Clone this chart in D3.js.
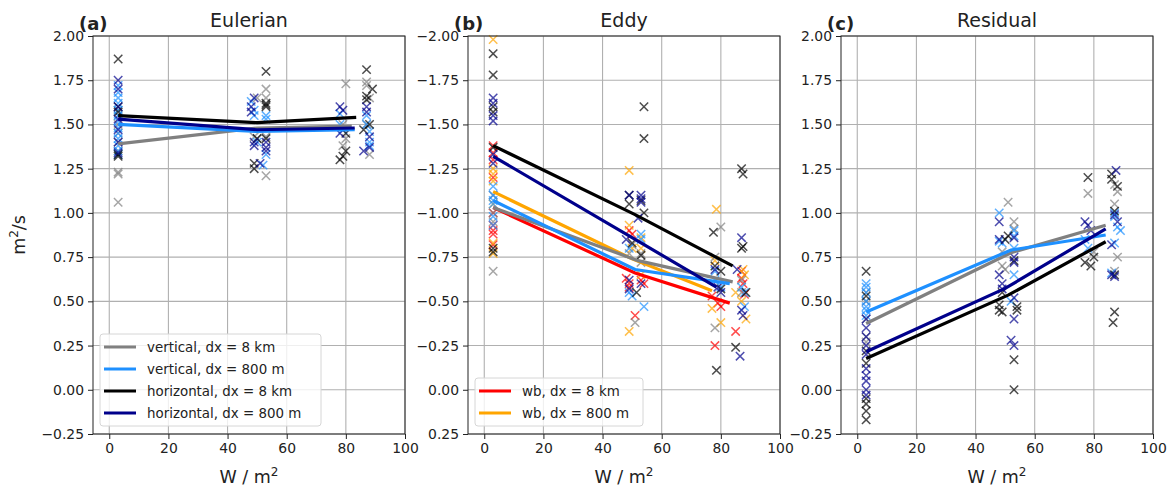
<!DOCTYPE html>
<html>
<head>
<meta charset="utf-8">
<script src="https://cdn.jsdelivr.net/npm/d3@7"></script>
<style>
  body { margin: 0; background: #fff; }
  text { font-family: 'DejaVu Sans', sans-serif; fill: #222; }
</style>
</head>
<body>
<div class="chart"></div>
<script>
// DATA ------------------------------------
const xTicks = [0, 20, 40, 60, 80, 100]
const yTicks = [-0.25, 0, 0.25, 0.5, 0.75, 1.0, 1.25, 1.5, 1.75, 2.0]

// (a) Eulerian
const eulGrey8Pts = [[3,1.58],[3,1.55],[3,1.50],[3,1.45],[3,1.40],[3,1.35],[3,1.23],[3,1.22],[3,1.06],[50,1.65],[49,1.43],[50,1.42],[53,1.70],[53,1.65],[53,1.43],[53,1.21],[80,1.73],[79,1.50],[80,1.42],[79,1.38],[87,1.74],[87,1.72],[88,1.65],[87,1.50],[88,1.33]]
const eulGrey8Line = [[3,1.39],[50,1.48],[82,1.49]]
const eulBlue800Pts = [[3,1.72],[3,1.68],[3,1.65],[3,1.62],[3,1.58],[3,1.55],[3,1.52],[3,1.48],[3,1.45],[3,1.42],[3,1.38],[3,1.35],[3,1.33],[48,1.63],[49,1.58],[49,1.55],[50,1.40],[53,1.55],[53,1.53],[53,1.33],[52,1.27],[78,1.56],[78,1.50],[79,1.47],[87,1.55],[87,1.50],[88,1.46],[88,1.40],[88,1.38]]
const eulBlue800Line = [[3,1.50],[50,1.46],[83,1.47]]
const eulBlack8Pts = [[3,1.87],[3,1.60],[3,1.57],[3,1.33],[3,1.32],[49,1.28],[49,1.25],[50,1.42],[53,1.80],[53,1.62],[53,1.61],[53,1.60],[53,1.42],[79,1.32],[78,1.30],[80,1.35],[80,1.45],[87,1.81],[89,1.70],[87,1.66],[87,1.64],[86,1.47],[88,1.50]]
const eulBlack8Line = [[3,1.55],[50,1.51],[83.5,1.54]]
const eulNavy800Pts = [[3,1.75],[3,1.70],[3,1.60],[3,1.53],[3,1.47],[3,1.40],[3,1.34],[49,1.65],[48,1.60],[48,1.57],[49,1.40],[49,1.38],[51,1.28],[53,1.40],[53,1.37],[53,1.35],[78,1.60],[79,1.58],[78,1.45],[87,1.60],[87,1.57],[86,1.35],[88,1.37],[88,1.43]]
const eulNavy800Line = [[3,1.53],[50,1.47],[83,1.48]]

// (b) Eddy
const eddyRed8Pts = [[3,-1.38],[3,-1.34],[3,-1.30],[3,-1.20],[3,-1.00],[3,-0.93],[3,-0.90],[3,-0.88],[3,-0.82],[49,-0.90],[50,-0.88],[48,-0.63],[49,-0.60],[49,-0.58],[51,-0.42],[53,-0.62],[54,-0.60],[77,-0.53],[79,-0.49],[80,-0.47],[78,-0.25],[87,-0.67],[87,-0.63],[87.5,-0.60],[88,-0.54],[85,-0.33]]
const eddyRed8Line = [[3,-1.03],[51,-0.66],[83,-0.49]]
const eddyOrange800Pts = [[3,-1.98],[3,-1.25],[3,-1.22],[3,-1.18],[3,-1.05],[3,-0.83],[3,-0.77],[49,-1.24],[49,-0.93],[49,-0.33],[50,-0.80],[53,-0.86],[53,-0.80],[53,-0.65],[78.5,-1.02],[78,-0.73],[77,-0.46],[80,-0.38],[87.5,-0.68],[88,-0.65],[87,-0.50],[88.5,-0.40],[85,-0.55]]
const eddyOrange800Line = [[3,-1.12],[50,-0.74],[77,-0.56]]
const eddyGrey8Pts = [[3,-1.00],[3,-1.10],[3,-0.95],[3,-0.67],[49,-0.77],[50,-0.82],[51,-0.38],[53,-0.77],[53,-0.72],[80,-0.92],[78,-0.75],[78,-0.35],[87,-0.55],[87,-0.62]]
const eddyGrey8Line = [[3,-1.03],[52,-0.73],[84,-0.61]]
const eddyBlue800Pts = [[3,-1.15],[3,-1.10],[3,-1.07],[3,-1.05],[3,-0.98],[3,-0.93],[49,-0.80],[49,-0.55],[50,-0.53],[53,-0.88],[53,-0.85],[54,-0.47],[78,-0.67],[78,-0.62],[80,-0.58],[87,-0.58],[88,-0.55],[88,-0.47]]
const eddyBlue800Line = [[3,-1.07],[51,-0.68],[83,-0.60]]
const eddyBlack8Pts = [[3,-1.90],[3,-1.78],[3,-1.60],[3,-1.57],[3,-1.37],[3,-0.80],[3,-0.78],[49,-1.05],[49,-1.10],[50,-0.83],[51.5,-0.55],[54,-1.60],[54,-1.42],[54,-1.00],[53,-1.07],[53,-0.76],[77.5,-0.89],[78,-0.70],[80,-0.67],[80,-0.57],[78.5,-0.11],[87,-1.25],[87.5,-1.22],[87.5,-0.81],[87,-0.80],[88.5,-0.55],[85,-0.24]]
const eddyBlack8Line = [[3,-1.38],[51,-0.99],[84,-0.70]]
const eddyNavy800Pts = [[3,-1.65],[3,-1.62],[3,-1.55],[3,-1.52],[3,-1.33],[3,-1.28],[49,-1.10],[48,-0.85],[49,-0.62],[49,-0.57],[53,-1.10],[53,-1.08],[53,-1.06],[52,-0.97],[53,-0.60],[78,-0.68],[79,-0.58],[80,-0.55],[87,-0.86],[85.5,-0.68],[87,-0.45],[87.5,-0.42],[86.5,-0.19]]
const eddyNavy800Line = [[3,-1.32],[50,-0.86],[78.5,-0.58]]

// (c) Residual
const resGrey8Pts = [[3,0.55],[3,0.50],[3,0.40],[3,0.30],[3,0.27],[51,1.06],[49,0.78],[49,0.70],[50,0.68],[53,0.95],[53,0.91],[78,1.11],[80,0.78],[87,1.16],[88,1.12],[87,1.05],[88,0.75],[87,0.67]]
const resGrey8Line = [[3,0.375],[52,0.775],[84,0.93]]
const resBlue800Pts = [[3,0.60],[3,0.58],[3,0.55],[3,0.50],[3,0.47],[3,0.45],[3,0.42],[48,1.00],[48,0.84],[49,0.83],[53,0.90],[53,0.87],[53,0.80],[53,0.65],[52,0.50],[77,0.85],[78,0.80],[87,1.00],[87,0.98],[88,0.92],[89,0.90],[87,0.83],[86,0.66]]
const resBlue800Line = [[3,0.44],[52,0.79],[84,0.875]]
const resBlack8Pts = [[3,0.67],[3,0.53],[3,0.22],[3,0.15],[3,-0.05],[3,-0.08],[3,-0.12],[3,-0.17],[50,0.85],[49,0.55],[48,0.48],[48,0.45],[49,0.44],[51,0.87],[53,0.73],[54,0.47],[54,0.45],[53,0.17],[53,0.0],[78,1.20],[77,0.72],[79,0.70],[80,0.75],[86,1.22],[86,1.19],[88,1.15],[87,1.01],[87,0.65],[87,0.44],[86.5,0.38]]
const resBlack8Line = [[3,0.177],[51,0.535],[84,0.837]]
const resNavy800Pts = [[3,0.40],[3,0.35],[3,0.30],[3,0.25],[3,0.20],[3,0.12],[3,0.08],[3,0.05],[3,0.00],[3,-0.03],[48,0.95],[48,0.85],[48,0.65],[49,0.60],[49,0.57],[53,0.86],[53,0.75],[53,0.72],[53,0.52],[53,0.40],[52,0.28],[53,0.25],[77,0.95],[78,0.93],[79,0.90],[87.5,1.24],[87,0.99],[88,0.95],[86,0.82],[86,0.65],[87,0.64]]
const resNavy800Line = [[3,0.215],[50,0.573],[84,0.91]]

const GREY = '#808080', BLUE = '#1e90ff', BLACK = '#000000', NAVY = '#00008b', RED = '#ff0000', ORANGE = '#ffa500'

const panels = [
  { tag: '(a)', title: 'Eulerian', invert: false,
    series: [
      { pts: eulGrey8Pts, line: eulGrey8Line, color: GREY },
      { pts: eulBlue800Pts, line: eulBlue800Line, color: BLUE },
      { pts: eulBlack8Pts, line: eulBlack8Line, color: BLACK },
      { pts: eulNavy800Pts, line: eulNavy800Line, color: NAVY }],
    legend: [['vertical, dx = 8 km', GREY], ['vertical, dx = 800 m', BLUE],
             ['horizontal, dx = 8 km', BLACK], ['horizontal, dx = 800 m', NAVY]] },
  { tag: '(b)', title: 'Eddy', invert: true,
    series: [
      { pts: eddyRed8Pts, line: eddyRed8Line, color: RED },
      { pts: eddyOrange800Pts, line: eddyOrange800Line, color: ORANGE },
      { pts: eddyGrey8Pts, line: eddyGrey8Line, color: GREY },
      { pts: eddyBlue800Pts, line: eddyBlue800Line, color: BLUE },
      { pts: eddyBlack8Pts, line: eddyBlack8Line, color: BLACK },
      { pts: eddyNavy800Pts, line: eddyNavy800Line, color: NAVY }],
    legend: [['wb, dx = 8 km', RED], ['wb, dx = 800 m', ORANGE]] },
  { tag: '(c)', title: 'Residual', invert: false,
    series: [
      { pts: resGrey8Pts, line: resGrey8Line, color: GREY },
      { pts: resBlue800Pts, line: resBlue800Line, color: BLUE },
      { pts: resBlack8Pts, line: resBlack8Line, color: BLACK },
      { pts: resNavy800Pts, line: resNavy800Line, color: NAVY }],
    legend: null }
]

// LAYOUT ----------------------------------
const lefts = [93, 468, 841]
const plotTop = 36
const width = 312
const height = 398

const svg = d3.select('.chart')
  .append('svg')
  .attr('width', 1170)
  .attr('height', 488)

const fmt = d3.format('.2f')

panels.forEach((p, i) => {
  const g = svg.append('g').attr('transform', `translate(${lefts[i]},${plotTop})`)

  const xScale = d3.scaleLinear().domain([-5.5, 100]).range([0, width])
  const yScale = d3.scaleLinear()
    .domain(p.invert ? [0.25, -2.0] : [-0.25, 2.0])
    .range([height, 0])
  const ticksY = p.invert ? yTicks.map(d => -d + 0.0) : yTicks

  // grid
  g.selectAll('.gx').data(xTicks).enter().append('line')
    .attr('x1', d => xScale(d)).attr('x2', d => xScale(d))
    .attr('y1', 0).attr('y2', height)
    .attr('stroke', '#b0b0b0').attr('stroke-width', 1.1)
  g.selectAll('.gy').data(ticksY).enter().append('line')
    .attr('x1', 0).attr('x2', width)
    .attr('y1', d => yScale(d)).attr('y2', d => yScale(d))
    .attr('stroke', '#b0b0b0').attr('stroke-width', 1.1)

  // scatter
  p.series.forEach(s => {
    g.append('g').selectAll('path').data(s.pts).enter().append('path')
      .attr('transform', d => `translate(${xScale(d[0])},${yScale(d[1])})`)
      .attr('d', 'M-4.2,-4.2L4.2,4.2M-4.2,4.2L4.2,-4.2')
      .attr('stroke', s.color)
      .attr('stroke-width', 1.5)
      .attr('opacity', 0.7)
      .attr('fill', 'none')
  })

  // lines
  const line = d3.line().x(d => xScale(d[0])).y(d => yScale(d[1]))
  p.series.forEach(s => {
    g.append('path').datum(s.line)
      .attr('d', line)
      .attr('fill', 'none')
      .attr('stroke', s.color)
      .attr('stroke-width', 3.2)
  })

  // axes
  const xAxis = d3.axisBottom(xScale).tickValues(xTicks).tickSize(5).tickPadding(4)
  const yAxis = d3.axisLeft(yScale).tickValues(ticksY).tickSize(5).tickPadding(4)
    .tickFormat(d => fmt(d === 0 ? 0 : d))
  const gx = g.append('g').attr('transform', `translate(0,${height})`).call(xAxis)
  const gy = g.append('g').call(yAxis)
  ;[gx, gy].forEach(a => {
    a.select('.domain').remove()
    a.selectAll('text').attr('font-size', 13.9).attr('font-family', 'DejaVu Sans').attr('fill', '#222')
    a.selectAll('line').attr('stroke', '#222')
  })

  g.append('rect')
    .attr('width', width).attr('height', height)
    .attr('fill', 'none').attr('stroke', '#222').attr('stroke-width', 1)

  // titles
  g.append('text')
    .attr('x', width / 2).attr('y', -9)
    .attr('text-anchor', 'middle')
    .attr('font-size', 19)
    .text(p.title)
  g.append('text')
    .attr('x', -14).attr('y', -6)
    .attr('font-size', 18)
    .attr('font-weight', 'bold')
    .attr('fill', '#000')
    .text(p.tag)

  g.append('text')
    .attr('x', width / 2).attr('y', height + 49)
    .attr('text-anchor', 'middle')
    .attr('font-size', 17.5)
    .text('W / m')
    .append('tspan').attr('dy', -7).attr('font-size', 12).text('2')

  // legend
  if (p.legend) {
    const rowH = 22
    const boxW = i === 0 ? 221 : 168
    const boxH = p.legend.length * rowH + 4
    const lg = g.append('g').attr('transform', `translate(7,${height - 8 - boxH})`)
    lg.append('rect')
      .attr('width', boxW).attr('height', boxH)
      .attr('rx', 3)
      .attr('fill', 'rgba(255,255,255,0.8)')
      .attr('stroke', '#d6d6d6')
    p.legend.forEach((e, k) => {
      const yy = 13 + k * rowH
      lg.append('line')
        .attr('x1', 4).attr('x2', 36).attr('y1', yy).attr('y2', yy)
        .attr('stroke', e[1]).attr('stroke-width', 3)
      lg.append('text')
        .attr('x', 47).attr('y', yy + 5)
        .attr('font-size', 13.4)
        .text(e[0])
    })
  }
})

// y label
const yLab = svg.append('text')
  .attr('transform', 'translate(25,235) rotate(-90)')
  .attr('text-anchor', 'middle')
  .attr('font-size', 17.5)
yLab.append('tspan').text('m')
yLab.append('tspan').attr('dy', -7).attr('font-size', 12).text('2')
yLab.append('tspan').attr('dy', 7).text('/s')
</script>
</body>
</html>
